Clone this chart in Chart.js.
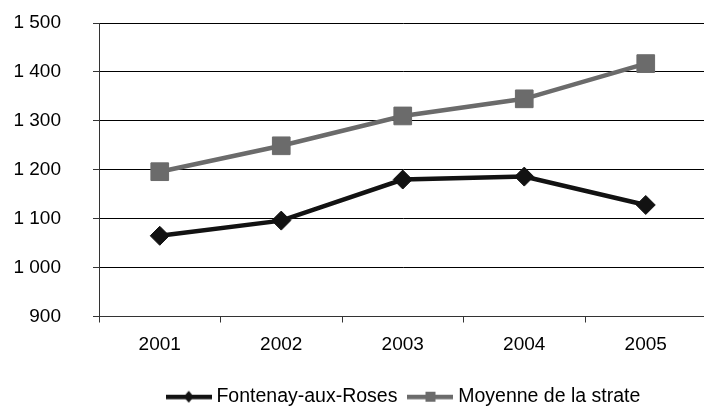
<!DOCTYPE html>
<html>
<head>
<meta charset="utf-8">
<script src="https://cdn.jsdelivr.net/npm/chart.js@4.4.1/dist/chart.umd.min.js"></script>
<style>
  html, body { margin: 0; padding: 0; background: #fff; overflow: hidden; }
  #wrap { width: 720px; height: 408px; position: relative; }
  #c { display: block; }
</style>
</head>
<body>
<div id="wrap"><canvas id="c" width="720" height="408" style="width:720px;height:408px"></canvas></div>
<script>
// Years on the horizontal axis
const years = ['2001', '2002', '2003', '2004', '2005'];
// Series values
const fontenay = [1065, 1096, 1180, 1186, 1128];
const moyenne = [1196, 1249, 1310, 1345, 1417];
const seriesNames = ['Fontenay-aux-Roses', 'Moyenne de la strate'];
// Vertical axis range
const yMin = 900, yMax = 1500, yStep = 100;

const BLACK = '#121212';
const GREY = '#6b6b6b';
const FAMILY = '"Liberation Sans", Arial, Helvetica, sans-serif';

Chart.defaults.font.family = FAMILY;
Chart.defaults.font.size = 19;
Chart.defaults.color = '#000';

// "1 500" style thousands separator
function frNumber(v) {
  return String(v).replace(/\B(?=(\d{3})+(?!\d))/g, '\u00a0');
}

// Legend swatch: a short line with the series marker in the middle
function legendSwatch(color, shape) {
  const cv = document.createElement('canvas');
  cv.width = 46; cv.height = 14;
  const g = cv.getContext('2d');
  g.fillStyle = color;
  g.fillRect(0, 5, 46, 4.5);
  if (shape === 'diamond') {
    g.beginPath();
    g.moveTo(23, 1); g.lineTo(28, 7); g.lineTo(23, 13); g.lineTo(18, 7);
    g.closePath(); g.fill();
  } else {
    g.fillRect(18, 2, 10, 10);
  }
  return cv;
}
const swatches = [legendSwatch(BLACK, 'diamond'), legendSwatch(GREY, 'square')];

// Places the legend row under the plot
const legendPlacement = {
  id: 'legendPlacement',
  afterLayout(chart) {
    const lg = chart.legend;
    if (!lg) return;
    lg.left = 96;
    lg.right = 715;
    lg.width = lg.right - lg.left;
    const h = lg.height;
    lg.top = 372;
    lg.bottom = lg.top + h;
  }
};

new Chart(document.getElementById('c'), {
  type: 'line',
  data: {
    labels: years,
    datasets: [
      {
        label: seriesNames[0],
        data: fontenay,
        borderColor: BLACK,
        backgroundColor: BLACK,
        borderWidth: 4.5,
        pointStyle: 'rectRot',
        pointRadius: 9.5,
        pointHoverRadius: 9.5,
        pointBorderWidth: 1,
        pointBorderColor: BLACK,
        pointBackgroundColor: BLACK,
        tension: 0,
        fill: false
      },
      {
        label: seriesNames[1],
        data: moyenne,
        borderColor: GREY,
        backgroundColor: GREY,
        borderWidth: 4.5,
        pointStyle: 'rect',
        pointRadius: 12.5,
        pointHoverRadius: 12.5,
        pointBorderWidth: 1,
        pointBorderColor: GREY,
        pointBackgroundColor: GREY,
        tension: 0,
        fill: false
      }
    ]
  },
  options: {
    responsive: false,
    animation: false,
    events: [],
    layout: { padding: { top: 23, right: 5, bottom: 0, left: 0 } },
    plugins: {
      tooltip: { enabled: false },
      legend: {
        position: 'bottom',
        labels: {
          usePointStyle: true,
          pointStyleWidth: 36,
          padding: 15,
          color: '#000',
          font: { size: 19.5, family: FAMILY },
          generateLabels(chart) {
            const items = Chart.defaults.plugins.legend.labels.generateLabels(chart);
            items.forEach(it => { it.pointStyle = swatches[it.datasetIndex]; });
            return items;
          }
        }
      }
    },
    scales: {
      x: {
        offset: true,
        grid: {
          offset: true,
          drawOnChartArea: false,
          drawTicks: true,
          tickLength: 6,
          tickColor: '#333',
          tickWidth: 1
        },
        border: { display: true, color: '#333', width: 1 },
        ticks: { padding: 11, color: '#000', font: { size: 19 } },
        afterFit(scale) {
          scale.height = 47;
          scale.paddingLeft = 0;
          scale.paddingRight = 0;
        }
      },
      y: {
        min: yMin,
        max: yMax,
        grid: {
          color: '#000',
          lineWidth: 1,
          drawTicks: true,
          tickLength: 6,
          tickColor: '#333'
        },
        border: { display: true, color: '#333', width: 1 },
        ticks: {
          stepSize: yStep,
          padding: 32,
          color: '#000',
          font: { size: 19 },
          callback: v => frNumber(v)
        },
        afterFit(scale) {
          scale.width = 99;
          // the label gap is horizontal only; keep it out of the vertical reserve
          scale.paddingTop = 0;
          scale.paddingBottom = 0;
        }
      }
    }
  },
  plugins: [legendPlacement]
});
</script>
</body>
</html>
